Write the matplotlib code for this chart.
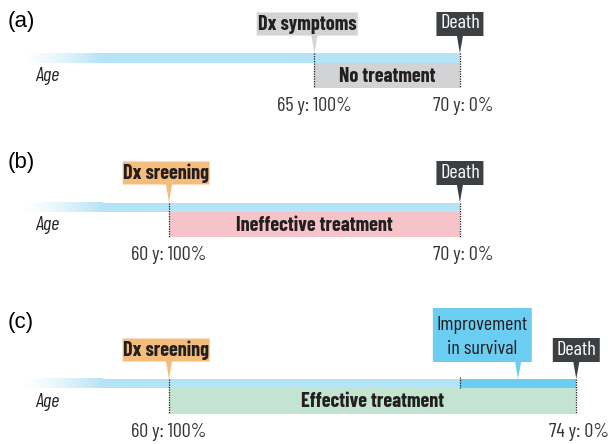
import matplotlib
matplotlib.use('Agg')
import matplotlib.pyplot as plt
from matplotlib.patches import Polygon, Rectangle
import numpy as np

# data
panel_labels = ['(a)', '(b)', '(c)']
dx_labels = ['Dx symptoms', 'Dx sreening', 'Dx sreening']
dx_ages = [65, 60, 60]
death_ages = [70, 70, 74]
start_pct = [100, 100, 100]
end_pct = [0, 0, 0]
treatment_labels = ['No treatment', 'Ineffective treatment', 'Effective treatment']
improvement_label = 'Improvement\nin survival'
improvement_from = 70      # old death age in (c)
age_start = 55

# styles
treat_colors = ['#d2d3d4', '#f6c4c8', '#c4e4d2']
dx_colors = ['#d2d3d4', '#f5bd7b', '#f5bd7b']
bar_color = '#b5e3f7'
improve_color = '#6ccdf3'
death_color = '#3d4043'
text_dark = '#231f20'
panel_offsets = [0, 149, 326]
letter_y = [22, 162, 322]

cond = ['Barlow Condensed', 'DejaVu Sans']

fig = plt.figure(figsize=(6.08, 4.44), dpi=100)
ax = fig.add_axes([0, 0, 1, 1])
ax.set_xlim(54.19, 75.09)
ax.set_ylim(444, 0)
ax.axis('off')

px = 1 / 29.1  # one pixel in years


def callout(xc, tip_x, top, bottom, tip_y, width, color):
    x0, x1 = xc - width / 2, xc + width / 2
    hw = 3 * px
    pts = [(x0, top), (x1, top), (x1, bottom), (tip_x + hw, bottom),
           (tip_x, tip_y), (tip_x - hw, bottom), (x0, bottom)]
    ax.add_patch(Polygon(pts, closed=True, facecolor=color, edgecolor='none', zorder=3))


# gradient for the faded start of the age bar
fade_end = age_start + 2.7
grad = np.zeros((1, 100, 4))
grad[0, :, :3] = matplotlib.colors.to_rgb(bar_color)
grad[0, :, 3] = np.linspace(0.0, 1.0, 100) ** 1.3

for i, off in enumerate(panel_offsets):
    bt, bb = 53.5 + off, 63 + off
    if i == 2:
        bt, bb = 53 + off, 62 + off
    boxb = 88 + off
    dx, death = dx_ages[i], death_ages[i]

    ax.text(54.46, letter_y[i], panel_labels[i], fontsize=16,
            family=['Liberation Sans', 'DejaVu Sans'],
            ha='left', va='center', color='black')

    # age bar
    ax.imshow(grad, extent=(age_start, fade_end, bb, bt), aspect='auto', zorder=2,
              interpolation='bilinear')
    ax.add_patch(Rectangle((fade_end, bt), death - fade_end, bb - bt,
                           facecolor=bar_color, edgecolor='none', zorder=2))
    if i == 2:
        ax.add_patch(Rectangle((improvement_from, bt), death - improvement_from, bb - bt,
                               facecolor=improve_color, edgecolor='none', zorder=2))
        ax.plot([improvement_from, improvement_from], [bt - 2, bb], color=text_dark,
                lw=0.9, ls=(0, (1, 1)), zorder=4)

    # treatment box
    ax.add_patch(Rectangle((dx, bb), death - dx, boxb - bb,
                           facecolor=treat_colors[i], edgecolor='none', zorder=2))
    ax.text((dx + death) / 2, (bb + boxb) / 2 + 0.5, treatment_labels[i], fontsize=14.5,
            family=cond, fontweight=700,
            ha='center', va='center', color=text_dark, zorder=5)

    ax.text(55.39, 76 + off, 'Age', fontsize=14.5, family=cond, style='italic',
            ha='left', va='center', color=text_dark)

    # dotted verticals
    for xv in (dx, death):
        ax.plot([xv, xv], [bt, boxb], color=text_dark, lw=0.9, ls=(0, (1, 1)), zorder=4)

    # value labels
    ax.text(dx, 106 + off, f'{dx} y: {start_pct[i]}%', fontsize=14.5, family=cond,
            fontweight=400, ha='center', va='center', color='#333333')
    ax.text(death + 0.1, 106 + off, f'{death} y: {end_pct[i]}%', fontsize=14.5,
            family=cond, fontweight=400, ha='center', va='center', color='#333333')

    # dx callout
    dxw = 101 * px if i == 0 else 87 * px
    dxc = dx - 0.25 * (i == 0) - 0.1 * (i > 0)
    callout(dxc, dx, 12.5 + off, 35.5 + off, bt, dxw, dx_colors[i])
    ax.text(dxc, 24 + off, dx_labels[i], fontsize=14.5, family=cond, fontweight=700,
            ha='center', va='center', color=text_dark, zorder=5)

    # death callout
    callout(death, death, 12 + off, 36 + off, bt, 47 * px, death_color)
    ax.text(death, 23.5 + off, 'Death', fontsize=14.5, family=cond, fontweight=400,
            ha='center', va='center', color='white', zorder=5)

# improvement callout in (c)
off = panel_offsets[2]
imp_c = improvement_from + 0.77
imp_tip = improvement_from + 2.0
callout(imp_c, imp_tip, -18 + off, 36 + off, 53 + off, 99 * px, improve_color)
ax.text(imp_c, 11 + off, improvement_label, fontsize=14.5, family=cond, fontweight=400,
        ha='center', va='center', color=text_dark, linespacing=1.4, zorder=5)

fig.savefig('out.png', dpi=100)
